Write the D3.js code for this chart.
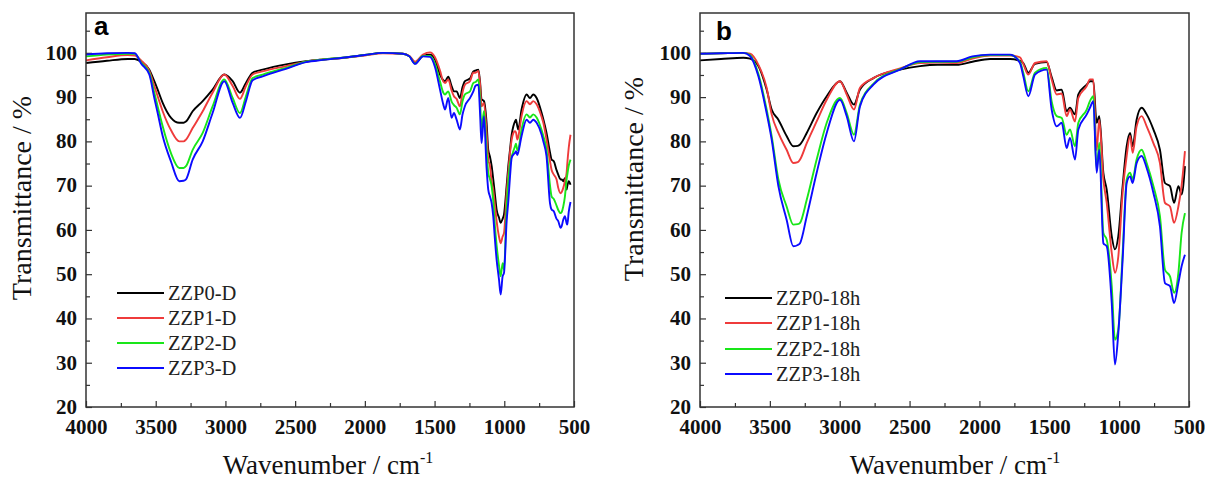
<!DOCTYPE html>
<html>
<head>
<meta charset="utf-8">
<script src="https://cdn.jsdelivr.net/npm/d3@7"></script>
<style>
  html, body { margin: 0; padding: 0; background: #fff; }
  svg { display: block; }
</style>
</head>
<body>
<script>
// ---------------- DATA ----------------
const xTickLabels = [4000, 3500, 3000, 2500, 2000, 1500, 1000, 500];
const yTickLabels = [20, 30, 40, 50, 60, 70, 80, 90, 100];

const legendA = ["ZZP0-D", "ZZP1-D", "ZZP2-D", "ZZP3-D"];
const legendB = ["ZZP0-18h", "ZZP1-18h", "ZZP2-18h", "ZZP3-18h"];
const seriesColors = ["#000000", "#ef3b3b", "#19e619", "#0b0bff"];

// Panel a — wavenumber (cm-1)
const wnA = [4000,3850,3700,3650,3605,3546,3510,3486,3450,3390,3331,3300,3283,3235,3163,3092,3008,2948,2896,2853,2805,2733,2566,2422,2300,2157,2000,1870,1727,1680,1640,1583,1533,1497,1461,1437,1425,1402,1378,1361,1342,1318,1300,1282,1246,1222,1206,1186,1174,1163,1146,1127,1115,1103,1091,1079,1067,1055,1038,1026,1012,1002,983,971,959,947,935,923,916,907,900,876,840,816,792,768,732,720,697,672,661,645,625,613,596,589,577,565,553,548,538,525];
const zzp0D = [97.7,98.2,98.6,98.6,98.0,96.2,93.6,91.7,88.7,85.3,84.2,84.2,84.5,86.8,89.1,91.7,95.1,93.6,91.0,93.2,95.5,96.2,97.4,98.1,98.5,98.9,99.5,100.0,99.8,99.2,97.7,99.3,99.6,98.5,95.1,93.8,93.6,94.6,92.5,91.3,91.3,89.8,92.2,93.6,94.2,95.8,96.0,96.2,93.5,89.5,89.1,84.2,78.1,76.6,74.5,71.4,68.0,64.6,62.8,61.6,62.5,63.5,70.0,74.5,78.1,81.5,83.4,84.5,84.9,83.5,82.7,87.2,90.6,89.8,90.6,89.8,86.4,85.0,81.9,77.5,75.9,75.5,73.5,72.5,71.4,71.4,71.0,71.7,69.1,69.9,71.0,70.2];
const zzp1D = [98.3,99.0,99.5,99.4,98.3,95.9,92.5,90.2,86.8,82.5,80.0,80.0,80.4,83.0,86.8,91.0,95.1,92.5,89.6,92.5,95.1,95.8,97.0,98.0,98.5,98.8,99.4,99.9,99.8,99.3,98.0,99.6,100.1,99.0,96.0,93.5,93.2,94.0,91.5,90.2,89.6,87.9,91.0,92.8,93.6,95.5,95.5,95.9,93.0,87.9,88.7,82.0,75.9,74.5,71.0,69.0,65.5,62.0,58.5,57.0,58.5,59.3,68.4,73.0,77.4,80.4,81.9,82.3,82.0,80.4,81.0,85.7,89.1,88.4,89.1,88.4,85.5,84.2,80.4,75.5,73.6,72.5,71.4,69.5,68.3,68.5,69.5,71.0,72.9,75.0,78.5,81.5];
const zzp2D = [99.2,99.6,99.8,99.8,97.8,95.5,91.0,87.9,83.4,77.3,74.0,74.0,74.4,78.1,81.9,87.9,94.0,89.8,86.4,90.2,94.3,95.1,96.6,98.0,98.5,98.9,99.5,100.0,99.8,99.2,97.6,99.3,99.3,97.5,93.5,91.0,90.6,91.3,89.0,88.2,87.6,86.1,89.0,90.6,91.3,93.2,93.4,94.0,89.5,82.7,86.8,78.0,72.9,71.5,69.9,66.5,60.8,56.5,52.0,49.5,52.5,51.0,65.3,71.0,75.0,76.6,77.8,78.9,79.5,78.0,78.2,82.7,86.1,85.4,86.1,85.4,82.5,81.2,78.1,70.0,67.6,67.0,65.5,64.5,63.8,64.0,65.3,67.6,71.4,72.5,74.5,75.9];
const zzp3D = [99.6,99.9,100.0,99.9,97.6,95.1,89.8,86.4,81.2,75.4,71.0,71.1,71.4,75.9,80.0,86.4,93.6,88.7,85.3,89.1,93.8,94.7,96.4,97.9,98.4,98.9,99.5,100.0,99.8,99.2,97.5,99.2,99.1,96.8,91.7,88.3,87.2,89.8,85.3,86.4,84.9,82.7,86.0,88.0,89.8,91.3,92.6,92.8,86.5,79.6,85.7,74.0,69.1,67.6,66.1,63.0,57.8,53.3,48.8,45.4,49.5,50.3,62.0,66.5,72.0,76.3,77.0,77.4,77.8,76.9,77.5,81.2,84.9,84.2,84.9,84.2,81.5,80.0,76.6,66.0,64.6,64.2,62.5,62.0,60.5,60.8,62.3,63.1,61.5,61.2,64.0,66.3];

// Panel b — wavenumber (cm-1)
const wnB = [4000,3850,3690,3642,3582,3523,3487,3439,3380,3332,3300,3284,3236,3165,3093,2998,2950,2898,2855,2759,2568,2425,2300,2163,2050,1924,1781,1710,1686,1650,1602,1519,1483,1447,1411,1376,1352,1316,1292,1232,1209,1185,1161,1142,1113,1089,1053,1030,1006,975,946,922,903,875,839,803,755,708,672,636,607,576,553,529];
const zzp0_18h = [98.3,98.6,98.9,98.7,97.0,91.7,87.2,84.9,81.2,78.9,79.0,79.3,81.9,86.4,90.2,93.6,91.0,88.3,91.7,94.3,96.2,97.0,97.3,97.3,98.0,98.6,98.6,98.2,97.7,95.5,97.5,97.9,94.5,91.5,91.7,86.8,87.6,86.1,90.6,92.8,93.6,93.6,84.2,85.7,72.9,69.1,58.6,55.6,58.6,69.9,78.9,81.9,78.9,84.9,87.6,86.1,82.7,78.1,70.6,69.9,66.1,69.9,68.0,74.4];
const zzp1_18h = [99.8,99.9,100.0,99.8,97.3,92.1,86.1,81.9,78.1,75.1,75.3,75.9,79.6,84.5,89.4,93.6,90.6,87.2,92.1,94.3,96.5,97.7,97.8,97.7,98.7,99.4,99.4,99.0,97.5,95.1,97.7,98.1,94.0,90.6,90.8,85.7,87.2,84.5,89.8,92.5,94.0,94.0,78.0,84.9,71.4,66.1,54.8,50.3,54.0,68.4,76.7,81.2,77.4,83.4,85.7,83.4,79.6,75.1,66.1,65.3,61.6,65.3,70.0,77.8];
const zzp2_18h = [99.8,99.9,100.0,99.5,95.2,87.2,81.2,71.4,65.3,61.2,61.3,61.6,66.8,75.9,84.2,89.8,86.4,81.5,88.3,93.0,96.3,97.9,98.0,98.0,99.0,99.5,99.5,98.0,95.5,91.3,95.5,96.6,89.0,85.7,85.3,81.5,82.7,78.9,84.2,87.2,89.1,90.2,73.6,79.7,59.3,57.8,47.3,35.2,37.5,54.8,71.4,72.9,71.5,75.9,78.1,75.1,69.9,63.1,51.0,49.5,45.8,50.3,59.3,63.8];
const zzp3_18h = [99.8,99.9,100.0,99.3,94.7,86.4,80.4,69.9,62.3,56.3,56.6,57.0,63.1,72.9,81.9,89.4,85.7,80.0,87.9,92.8,96.2,98.1,98.1,98.1,99.2,99.6,99.6,97.7,94.7,90.2,95.1,96.2,87.2,83.4,84.2,78.5,80.8,75.9,82.7,86.1,87.6,89.1,72.9,78.1,57.0,56.3,43.5,29.6,36.7,53.3,70.6,72.1,70.6,75.1,76.7,74.0,68.4,60.8,48.0,47.3,43.5,48.0,51.8,54.4];

// ---------------- DRAW ----------------
const W = 1205, H = 482;
const SERIF = "'Liberation Serif','Times New Roman',serif";
const SANS = "'Liberation Sans',Arial,sans-serif";

const svg = d3.select("body").append("svg").attr("width", W).attr("height", H);

function panel(cfg) {
  const x = d3.scaleLinear().domain([4000, 500]).range([cfg.left, cfg.right]);
  const y = d3.scaleLinear().domain([20, 109]).range([cfg.bottom, cfg.top]);
  const g = svg.append("g");

  // minor ticks
  const gxm = g.append("g").attr("transform", `translate(0,${cfg.bottom})`)
    .call(d3.axisBottom(x).tickValues(d3.range(3750, 500, -500)).tickSize(-4).tickFormat(""));
  const gym = g.append("g").attr("transform", `translate(${cfg.left},0)`)
    .call(d3.axisLeft(y).tickValues(d3.range(25, 110, 10)).tickSize(-4).tickFormat(""));
  [gxm, gym].forEach(a => { a.select(".domain").remove(); a.selectAll("line").attr("stroke", "#333").attr("stroke-width", 1.2); });

  // major ticks
  const gx = g.append("g").attr("transform", `translate(0,${cfg.bottom})`)
    .call(d3.axisBottom(x).tickValues(xTickLabels).tickSize(-6).tickPadding(12).tickFormat(d3.format("d")));
  const gy = g.append("g").attr("transform", `translate(${cfg.left},0)`)
    .call(d3.axisLeft(y).tickValues(yTickLabels).tickSize(-6).tickPadding(9).tickFormat(d3.format("d")));
  [gx, gy].forEach(a => {
    a.select(".domain").remove();
    a.selectAll("line").attr("stroke", "#333").attr("stroke-width", 1.2);
    a.selectAll("text").attr("font-family", SERIF).attr("font-weight", "bold")
      .attr("font-size", 21).attr("fill", "#111");
  });
  gy.selectAll("text").attr("dy", "0.3em");

  // lines
  const line = d3.line().x(d => x(d[0])).y(d => y(d[1])).curve(d3.curveMonotoneX);
  cfg.series.forEach((vals, i) => {
    const pts = cfg.wn.map((w, j) => [w, vals[j]]);
    g.append("path").datum(pts).attr("d", line)
      .attr("fill", "none").attr("stroke", seriesColors[i])
      .attr("stroke-width", 1.9).attr("stroke-linejoin", "round");
  });

  // frame
  g.append("rect").attr("x", cfg.left).attr("y", cfg.top)
    .attr("width", cfg.right - cfg.left).attr("height", cfg.bottom - cfg.top)
    .attr("fill", "none").attr("stroke", "#333").attr("stroke-width", 1.5);

  // legend
  cfg.legend.forEach((lab, i) => {
    const ly = cfg.legY[i];
    g.append("line").attr("x1", cfg.legX).attr("x2", cfg.legX + 47)
      .attr("y1", ly).attr("y2", ly).attr("stroke", seriesColors[i]).attr("stroke-width", 2);
    g.append("text").attr("x", cfg.legX + 51).attr("y", ly).attr("dy", "0.35em")
      .attr("font-family", SERIF).attr("font-size", 20.5).attr("fill", "#222").text(lab);
  });

  // panel letter
  g.append("text").attr("x", cfg.letterX).attr("y", cfg.letterY)
    .attr("font-family", SANS).attr("font-weight", "bold").attr("font-size", 26)
    .attr("fill", "#000").text(cfg.letter);

  // axis titles
  const xt = g.append("text").attr("x", cfg.xTitleX).attr("y", 474)
    .attr("text-anchor", "middle").attr("font-family", SERIF).attr("font-size", 27).attr("fill", "#111");
  xt.append("tspan").text("Wavenumber / cm");
  xt.append("tspan").attr("font-size", 16).attr("dy", -11).text("-1");

  g.append("text").attr("transform", `translate(${cfg.yTitleX},${cfg.yTitleY}) rotate(-90)`)
    .attr("text-anchor", "middle").attr("font-family", SERIF).attr("font-size", 28)
    .attr("fill", "#111").text("Transmittance / %");
}

panel({
  left: 86, right: 574, top: 13, bottom: 407,
  wn: wnA, series: [zzp0D, zzp1D, zzp2D, zzp3D], legend: legendA,
  legX: 117, legY: [293, 318, 343, 368],
  letter: "a", letterX: 94, letterY: 35,
  xTitleX: 328, yTitleX: 31, yTitleY: 198
});
panel({
  left: 700, right: 1189, top: 13, bottom: 407,
  wn: wnB, series: [zzp0_18h, zzp1_18h, zzp2_18h, zzp3_18h], legend: legendB,
  legX: 725, legY: [298, 323, 349, 374],
  letter: "b", letterX: 716, letterY: 40,
  xTitleX: 955, yTitleX: 643, yTitleY: 179
});
</script>
</body>
</html>
